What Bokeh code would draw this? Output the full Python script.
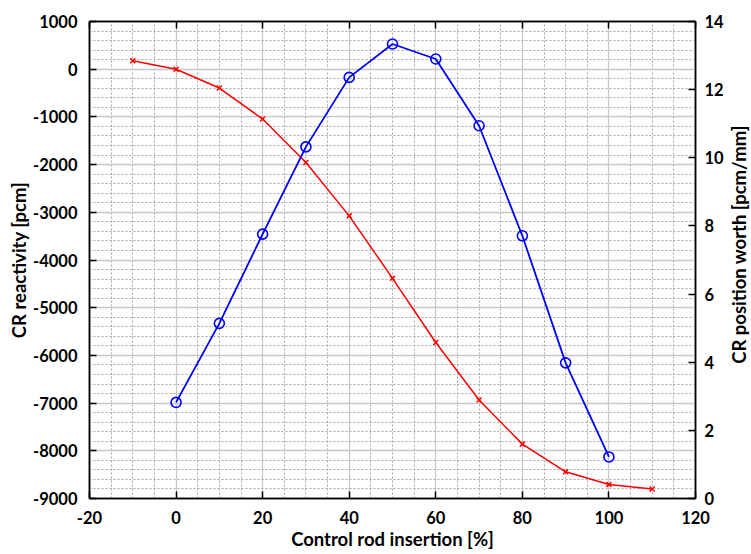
import math
from bokeh.plotting import figure
from bokeh.layouts import row
from bokeh.core.properties import value
from bokeh.models import (LinearAxis, Range1d, SingleIntervalTicker,
                          PrintfTickFormatter, CustomJSTickFormatter)
from bokeh.embed import file_html
from bokeh.resources import INLINE

# Data
insertion_react = [-10, 0, 10, 20, 30, 40, 50, 60, 70, 80, 90, 100, 110]
reactivity = [175, 0, -395, -1045, -1955, -3075, -4385, -5730, -6935, -7860, -8440, -8705, -8800]
insertion_worth = [0, 10, 20, 30, 40, 50, 60, 70, 80, 90, 100]
worth = [2.82, 5.14, 7.76, 10.32, 12.36, 13.34, 12.90, 10.94, 7.71, 3.98, 1.22]

x_label = "Control rod insertion [%]"
y_label = "CR reactivity [pcm]"
y2_label = "CR position worth [pcm/mm]"

FONT = "Lato"
TICK_SIZE = "16.5px"
LABEL_SIZE = "18.5px"

W, H = 751, 554
BL, BR, BT, BB = 89, 30, 21, 56
FW, FH = 606, 477

p = figure(frame_width=FW, frame_height=FH,
           x_range=Range1d(-20, 120), y_range=Range1d(-9000, 1000),
           output_backend="svg", toolbar_location=None,
           min_border_left=BL, min_border_right=BR, min_border_top=BT, min_border_bottom=BB)
p.extra_y_ranges = {"worth": Range1d(0, 14)}
p.background_fill_color = "white"
p.border_fill_color = "white"
p.outline_line_color = "black"
p.outline_line_width = 1.5

xt = SingleIntervalTicker(interval=20, num_minor_ticks=4)
yt = SingleIntervalTicker(interval=1000, num_minor_ticks=5)
p.xaxis.ticker = xt
p.yaxis.ticker = yt
p.xgrid.ticker = xt
p.ygrid.ticker = yt

for g in (p.xgrid, p.ygrid):
    g.grid_line_color = "#c8c8c8"
    g.grid_line_width = 1.3
    g.minor_grid_line_color = "#a8a8a8"
    g.minor_grid_line_dash = "2 2"
    g.minor_grid_line_width = 1

def style_axis(ax):
    ax.axis_line_color = "black"
    ax.axis_line_width = 1.5
    ax.major_tick_in = 7
    ax.major_tick_out = 0
    ax.major_tick_line_color = "black"
    ax.major_tick_line_width = 1.5
    ax.minor_tick_line_color = None
    ax.major_label_text_font = FONT
    ax.major_label_text_font_style = "bold"
    ax.major_label_text_font_size = TICK_SIZE
    ax.major_label_text_color = "black"
    ax.axis_label_text_font = FONT
    ax.axis_label_text_font_style = "bold"
    ax.axis_label_text_font_size = LABEL_SIZE
    ax.axis_label_text_color = "black"
    ax.formatter = PrintfTickFormatter(format="%d")

style_axis(p.xaxis[0])
style_axis(p.yaxis[0])
p.xaxis.axis_label = x_label
p.yaxis.axis_label = y_label
p.xaxis.major_label_standoff = 8
p.yaxis.major_label_standoff = 8
p.xaxis.axis_label_standoff = 1
p.yaxis.axis_label_standoff = 0

right = LinearAxis(y_range_name="worth",
                   ticker=SingleIntervalTicker(interval=2, num_minor_ticks=0))
style_axis(right)
right.major_label_standoff = 9
p.add_layout(right, "right")

top = LinearAxis(ticker=xt)
style_axis(top)
top.formatter = CustomJSTickFormatter(code="return ''")
top.major_label_standoff = 0
p.add_layout(top, "above")

p.line(insertion_react, reactivity, line_color="red", line_width=1.5)
p.scatter(insertion_react, reactivity, marker="x", size=7, line_color="red", line_width=1.5)

p.line(insertion_worth, worth, y_range_name="worth", line_color="blue", line_width=1.8)
p.scatter(insertion_worth, worth, y_range_name="worth", marker="circle", size=10,
          fill_color=None, line_color="blue", line_width=1.6)

# narrow strip on the right holding the secondary axis title (reads bottom-to-top)
SW = W - (BL + FW + BR)
strip = figure(width=SW, height=H, x_range=Range1d(0, SW), y_range=Range1d(0, H),
               x_axis_type=None, y_axis_type=None, min_border=0,
               output_backend="svg", toolbar_location=None)
strip.outline_line_color = None
strip.xgrid.visible = False
strip.ygrid.visible = False
strip.background_fill_color = "white"
strip.border_fill_color = "white"
strip.text(x=[737 - (BL + FW + BR)], y=[H - 259], text=[y2_label], angle=math.pi / 2,
           text_font=value(FONT), text_font_style="bold", text_font_size=value(LABEL_SIZE),
           text_color="black", text_align="center", text_baseline="middle")

layout = row(p, strip, spacing=0)
open("out.html", "w").write(file_html(layout, INLINE))
